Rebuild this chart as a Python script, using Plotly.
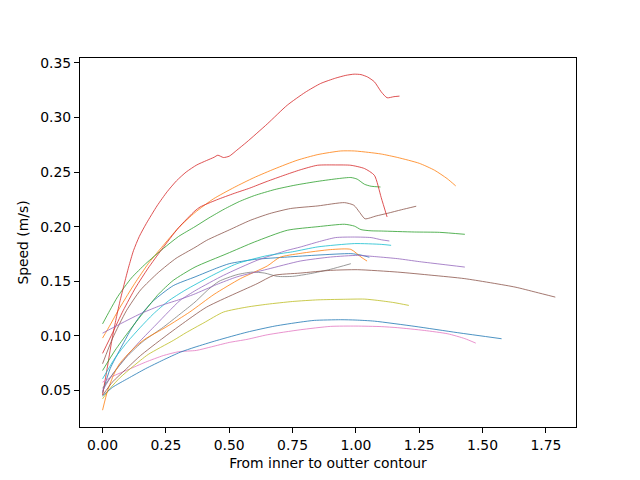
import plotly.graph_objects as go

# ---------------- data ----------------
blue1_x = [0, 0.03, 0.07, 0.11, 0.147, 0.2, 0.279, 0.365, 0.45, 0.5, 0.6, 0.73, 0.85, 0.98, 1.02, 1.053]
blue1_y = [0.048, 0.07, 0.088, 0.105, 0.118, 0.132, 0.146, 0.154, 0.162, 0.1661, 0.17, 0.1722, 0.174, 0.1753, 0.174, 0.172]

orange1_x = [0, 0.03, 0.061, 0.1, 0.127, 0.18, 0.233, 0.3, 0.365, 0.438, 0.52, 0.597, 0.68, 0.768, 0.85, 0.94, 0.994, 1.05, 1.1, 1.165, 1.25, 1.31, 1.36, 1.394]
orange1_y = [0.098, 0.11, 0.123, 0.138, 0.148, 0.166, 0.181, 0.199, 0.213, 0.2255, 0.236, 0.2448, 0.253, 0.2608, 0.266, 0.2693, 0.2693, 0.268, 0.2665, 0.2633, 0.258, 0.2517, 0.244, 0.2373]

green1_x = [0, 0.028, 0.06, 0.114, 0.17, 0.24, 0.3, 0.365, 0.42, 0.48, 0.54, 0.6, 0.68, 0.76, 0.85, 0.93, 0.98, 1.005, 1.034, 1.06, 1.097]
green1_y = [0.111, 0.123, 0.136, 0.153, 0.166, 0.18, 0.191, 0.2, 0.208, 0.216, 0.223, 0.2285, 0.234, 0.238, 0.2415, 0.244, 0.245, 0.2435, 0.2388, 0.237, 0.2363]

red1_x = [0, 0.018, 0.036, 0.052, 0.068, 0.085, 0.103, 0.122, 0.145, 0.173, 0.215, 0.255, 0.292, 0.33, 0.372, 0.41, 0.44, 0.455, 0.477, 0.5, 0.53, 0.57, 0.65, 0.729, 0.8, 0.861, 0.92, 0.96, 0.993, 1.02, 1.046, 1.073, 1.1, 1.123, 1.15, 1.172]
red1_y = [0.046, 0.07, 0.095, 0.114, 0.131, 0.147, 0.163, 0.178, 0.191, 0.203, 0.219, 0.232, 0.242, 0.25, 0.2565, 0.2605, 0.2635, 0.2654, 0.2633, 0.2645, 0.27, 0.2776, 0.294, 0.3112, 0.323, 0.3311, 0.336, 0.3385, 0.3396, 0.3392, 0.337, 0.3326, 0.3234, 0.318, 0.319, 0.3195]

purple1_x = [0, 0.04, 0.09, 0.147, 0.21, 0.26, 0.306, 0.37, 0.477, 0.61, 0.729, 0.78, 0.85, 0.92, 0.994, 1.06, 1.1, 1.132]
purple1_y = [0.05, 0.065, 0.08, 0.095, 0.11, 0.122, 0.1325, 0.142, 0.1554, 0.1692, 0.1783, 0.1813, 0.186, 0.19, 0.1905, 0.19, 0.188, 0.1869]

brown1_x = [0, 0.04, 0.094, 0.15, 0.22, 0.29, 0.365, 0.411, 0.5, 0.583, 0.66, 0.742, 0.85, 0.955, 0.992, 1.015, 1.036, 1.08, 1.126, 1.18, 1.238]
brown1_y = [0.0745, 0.098, 0.123, 0.142, 0.158, 0.171, 0.181, 0.1875, 0.197, 0.2058, 0.212, 0.2166, 0.219, 0.222, 0.2196, 0.213, 0.2072, 0.2098, 0.2123, 0.2155, 0.2187]

pink_x = [0, 0.04, 0.1, 0.17, 0.24, 0.3, 0.37, 0.43, 0.5, 0.57, 0.65, 0.78, 0.9, 1.0, 1.1, 1.165, 1.27, 1.363, 1.43, 1.473]
pink_y = [0.0576, 0.063, 0.069, 0.076, 0.082, 0.0855, 0.0867, 0.09, 0.094, 0.0968, 0.101, 0.1056, 0.1087, 0.109, 0.1085, 0.1075, 0.105, 0.1019, 0.0975, 0.0934]

gray_x = [0, 0.05, 0.1, 0.16, 0.24, 0.306, 0.365, 0.42, 0.46, 0.53, 0.59, 0.64, 0.69, 0.75, 0.82, 0.9, 0.98]
gray_y = [0.052, 0.068, 0.082, 0.095, 0.108, 0.12, 0.131, 0.143, 0.15, 0.156, 0.1584, 0.1575, 0.1545, 0.1545, 0.157, 0.161, 0.1661]

olive_x = [0, 0.03, 0.07, 0.12, 0.18, 0.279, 0.33, 0.4, 0.477, 0.57, 0.65, 0.75, 0.85, 0.95, 1.033, 1.086, 1.15, 1.209]
olive_y = [0.0424, 0.052, 0.062, 0.072, 0.083, 0.0958, 0.103, 0.112, 0.1218, 0.1264, 0.129, 0.1315, 0.133, 0.1335, 0.1337, 0.1325, 0.1305, 0.1279]

cyan_x = [0, 0.05, 0.1, 0.15, 0.2, 0.26, 0.325, 0.43, 0.53, 0.65, 0.75, 0.85, 0.994, 1.1, 1.139]
cyan_y = [0.0607, 0.08, 0.095, 0.108, 0.12, 0.132, 0.1417, 0.155, 0.1661, 0.1735, 0.177, 0.1815, 0.1845, 0.1838, 0.1829]

blue2_x = [0, 0.04, 0.1, 0.17, 0.24, 0.306, 0.365, 0.451, 0.57, 0.68, 0.78, 0.836, 0.94, 1.0, 1.073, 1.233, 1.4, 1.575]
blue2_y = [0.045, 0.053, 0.061, 0.07, 0.078, 0.085, 0.0897, 0.0958, 0.1034, 0.109, 0.1126, 0.1142, 0.1148, 0.1145, 0.1135, 0.1087, 0.103, 0.0974]

orange2_x = [0, 0.02, 0.045, 0.067, 0.12, 0.167, 0.25, 0.345, 0.44, 0.544, 0.65, 0.7, 0.78, 0.9, 0.98, 1.02, 1.044]
orange2_y = [0.032, 0.05, 0.065, 0.0745, 0.088, 0.097, 0.108, 0.122, 0.138, 0.1524, 0.164, 0.172, 0.1755, 0.179, 0.1792, 0.1722, 0.1685]

green2_x = [0, 0.05, 0.1, 0.167, 0.22, 0.279, 0.365, 0.491, 0.6, 0.729, 0.85, 0.955, 0.994, 1.02, 1.06, 1.1, 1.231, 1.33, 1.43]
green2_y = [0.0683, 0.087, 0.103, 0.123, 0.138, 0.1508, 0.163, 0.1753, 0.186, 0.1967, 0.2, 0.2022, 0.2005, 0.1973, 0.1962, 0.196, 0.1951, 0.1948, 0.193]

red2_x = [0, 0.04, 0.081, 0.13, 0.18, 0.233, 0.3, 0.365, 0.385, 0.45, 0.52, 0.58, 0.61, 0.65, 0.716, 0.78, 0.848, 0.92, 0.98, 1.034, 1.073, 1.1, 1.123]
red2_y = [0.084, 0.103, 0.123, 0.144, 0.162, 0.179, 0.199, 0.2145, 0.218, 0.2245, 0.2305, 0.2352, 0.2379, 0.2415, 0.247, 0.252, 0.2562, 0.2565, 0.2562, 0.2532, 0.247, 0.2265, 0.2089]

purple2_x = [0, 0.07, 0.147, 0.22, 0.3, 0.36, 0.45, 0.53, 0.65, 0.78, 0.9, 1.007, 1.08, 1.165, 1.25, 1.34, 1.43]
purple2_y = [0.1025, 0.111, 0.12, 0.127, 0.133, 0.138, 0.147, 0.154, 0.161, 0.1685, 0.1722, 0.1737, 0.1725, 0.1707, 0.168, 0.1655, 0.163]

brown2_x = [0, 0.04, 0.09, 0.15, 0.226, 0.306, 0.411, 0.61, 0.676, 0.78, 0.9, 1.007, 1.165, 1.3, 1.43, 1.628, 1.71, 1.787]
brown2_y = [0.0455, 0.058, 0.069, 0.082, 0.0958, 0.1096, 0.1264, 0.1478, 0.1554, 0.1575, 0.16, 0.1606, 0.1584, 0.1555, 0.1524, 0.1447, 0.14, 0.1355]

x_ticks = [0.0, 0.25, 0.5, 0.75, 1.0, 1.25, 1.5, 1.75]
x_tick_labels = ["0.00", "0.25", "0.50", "0.75", "1.00", "1.25", "1.50", "1.75"]
y_ticks = [0.05, 0.10, 0.15, 0.20, 0.25, 0.30, 0.35]
y_tick_labels = ["0.05", "0.10", "0.15", "0.20", "0.25", "0.30", "0.35"]

series = [
    (blue1_x, blue1_y, "#1f77b4"),
    (orange1_x, orange1_y, "#ff7f0e"),
    (green1_x, green1_y, "#2ca02c"),
    (red1_x, red1_y, "#d62728"),
    (purple1_x, purple1_y, "#9467bd"),
    (brown1_x, brown1_y, "#8c564b"),
    (pink_x, pink_y, "#e377c2"),
    (gray_x, gray_y, "#7f7f7f"),
    (olive_x, olive_y, "#bcbd22"),
    (cyan_x, cyan_y, "#17becf"),
    (blue2_x, blue2_y, "#1f77b4"),
    (orange2_x, orange2_y, "#ff7f0e"),
    (green2_x, green2_y, "#2ca02c"),
    (red2_x, red2_y, "#d62728"),
    (purple2_x, purple2_y, "#9467bd"),
    (brown2_x, brown2_y, "#8c564b"),
]

fig = go.Figure()
for xs, ys, col in series:
    fig.add_trace(go.Scatter(x=xs, y=ys, mode="lines",
                             line=dict(color=col, width=0.8, shape="spline", smoothing=0.6),
                             showlegend=False, hoverinfo="skip"))

axis_common = dict(showgrid=False, zeroline=False, showline=True, mirror=True,
                   linecolor="black", linewidth=1, ticks="outside", ticklen=5,
                   tickwidth=1, tickcolor="black", automargin=False,
                   tickfont=dict(family="DejaVu Sans", size=13.9, color="black"))

fig.update_layout(
    width=640, height=480,
    margin=dict(l=80, r=64, t=58, b=53),
    paper_bgcolor="white", plot_bgcolor="white",
    font=dict(family="DejaVu Sans", size=13.9, color="black"),
    xaxis=dict(range=[-0.089, 1.8687], tickmode="array", tickvals=x_ticks, ticktext=x_tick_labels,
               title=dict(text="From inner to outter contour", standoff=6,
                          font=dict(family="DejaVu Sans", size=13.9, color="black")),
               **axis_common),
    yaxis=dict(range=[0.0166, 0.3544], tickmode="array", tickvals=y_ticks, ticktext=y_tick_labels,
               title=dict(text="Speed (m/s)", standoff=8,
                          font=dict(family="DejaVu Sans", size=13.9, color="black")),
               **axis_common),
)

fig.write_html("out.html")
